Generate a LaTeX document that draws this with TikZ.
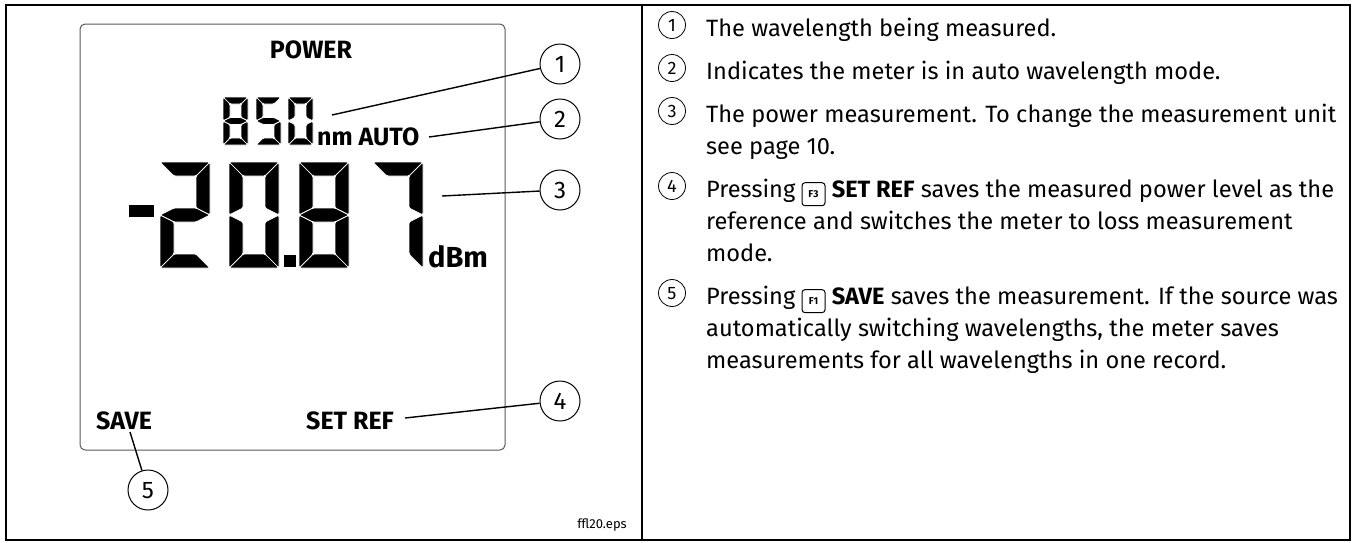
\documentclass[tikz,border=0pt]{standalone}
\usepackage{fontspec}
\setmainfont{Fira Sans}[Numbers=Lining]
\usetikzlibrary{positioning}

% LCD segments, local frame: (0,0) top left, y downwards
\newcommand{\sega}{\fill[lcdseg] (0,0) -- (\dw,0) -- ({\dw-\dt},\dt) -- (\dt,\dt) -- cycle;}
\newcommand{\segb}{\fill[lcdseg] (\dw,0) -- (\dw,{\dh/2}) -- ({\dw-\dt},{\dh/2-\dt/2}) -- ({\dw-\dt},\dt) -- cycle;}
\newcommand{\segc}{\fill[lcdseg] (\dw,{\dh/2}) -- (\dw,\dh) -- ({\dw-\dt},{\dh-\dt}) -- ({\dw-\dt},{\dh/2+\dt/2}) -- cycle;}
\newcommand{\segd}{\fill[lcdseg] (0,\dh) -- (\dw,\dh) -- ({\dw-\dt},{\dh-\dt}) -- (\dt,{\dh-\dt}) -- cycle;}
\newcommand{\sege}{\fill[lcdseg] (0,{\dh/2}) -- (\dt,{\dh/2+\dt/2}) -- (\dt,{\dh-\dt}) -- (0,\dh) -- cycle;}
\newcommand{\segf}{\fill[lcdseg] (0,0) -- (\dt,\dt) -- (\dt,{\dh/2-\dt/2}) -- (0,{\dh/2}) -- cycle;}
\newcommand{\segg}{\fill[lcdseg] (0,{\dh/2}) -- (\dt,{\dh/2-\dt/2}) -- ({\dw-\dt},{\dh/2-\dt/2}) -- (\dw,{\dh/2})
  -- ({\dw-\dt},{\dh/2+\dt/2}) -- (\dt,{\dh/2+\dt/2}) -- cycle;}
% one digit: x, y, width, height, thickness, segment list macro
\newcommand{\lcddigit}[6]{%
  \begin{scope}[shift={(#1,#2)}]
    \def\dw{#3}\def\dh{#4}\def\dt{#5}
    \foreach \s in #6 {\csname seg\s\endcsname}
  \end{scope}}
% function key glyph
\newcommand{\fkey}[1]{\tikz[baseline=(fk.base)]\node[fkeybox] (fk) {#1};}

\begin{document}
\begin{tikzpicture}[
    x=1pt, y=-1pt,
    every node/.style={inner sep=0pt},
    lcdseg/.style={fill=black, draw=white, line width=0.7pt, rounded corners=1.5pt},
    lcdlabel/.style={font=\fontsize{25}{25}\selectfont\bfseries},
    callout/.style={circle, draw, line width=1pt, minimum size=40pt,
                    text height=17pt, text depth=0pt,
                    font=\fontsize{24}{24}\selectfont},
    bullet/.style={circle, draw, line width=0.8pt, minimum size=27pt,
                   text height=13pt, text depth=0pt,
                   font=\fontsize{18}{18}\selectfont},
    lead/.style={line width=1.4pt},
    desc/.style={anchor=north west, align=left,
                 font=\fontsize{23.6}{32}\selectfont},
    fkeybox/.style={draw, line width=1pt, rounded corners=3pt,
                    minimum width=23pt, minimum height=23pt, inner sep=1pt,
                    font=\fontsize{10}{10}\selectfont\bfseries},
  ]
  \useasboundingbox (0,0) rectangle (1352,542);
  % frame and divider
  \draw[line width=2pt] (6,5) rectangle (1350,540);
  \draw[line width=2pt] (641.5,5) -- (641.5,540);
  % LCD screen
  \draw[black!65, line width=1pt, rounded corners=5pt] (80,24) rectangle (505,450);
  \node[lcdlabel] (power) at (311,50) {POWER};
  % wavelength digits
  \foreach \px/\segs in {223/{a,b,c,d,e,f,g}, 256/{a,f,g,c,d}, 288/{a,b,c,d,e,f}}
    \lcddigit{\px}{97}{25}{48}{7}{\segs};
  \node[lcdlabel, anchor=base west] (auto) at (317,145) {nm AUTO};
  % power reading
  \fill (129,205) rectangle (154,217);
  \foreach \px/\segs in {160/{a,b,g,e,d}, 229/{a,b,c,d,e,f}, 299/{a,b,c,d,e,f,g}, 373/{a,b,c}}
    \lcddigit{\px}{162}{50}{106}{14}{\segs};
  \fill (284,255) rectangle (296,267);
  \node[lcdlabel, anchor=base west, font=\fontsize{29}{29}\selectfont\bfseries] (dbm) at (428,267) {dBm};
  % soft keys
  \node[lcdlabel, anchor=base west] (save) at (96,429) {SAVE};
  \node[lcdlabel, anchor=base west] (setref) at (306,429) {SET REF};
  \node[anchor=base east, font=\fontsize{13}{13}\selectfont] (fname) at (627,528) {ffl20.eps};
  % callouts
  \node[callout] (c1) at (560,64) {1};
  \node[callout] (c2) at (560,119) {2};
  \node[callout] (c3) at (560,190) {3};
  \node[callout] (c4) at (560,401) {4};
  \node[callout] (c5) at (148,490) {5};
  \coordinate (p1) at (332,115);
  \coordinate (p2) at (429,137);
  \coordinate (p3) at (442,196);
  \coordinate (p4) at (405,418);
  \coordinate (p5) at (130,432);
  \foreach \i in {1,...,5}
    \draw[lead] (p\i) -- (c\i);
  % legend
  \foreach \i/\py in {1/25, 2/68, 3/111, 4/186, 5/293}
    \node[bullet] (n\i) at (672,\py) {\i};
  \node[desc] (t1) at (706,18) {The wavelength being measured.};
  \node[desc] (t2) at (706,61) {Indicates the meter is in auto wavelength mode.};
  \node[desc] (t3) at (706,104) {The power measurement. To change the measurement unit\\see page 10.};
  \node[desc] (t4) at (706,179) {Pressing \fkey{F3} {\bfseries SET REF} saves the measured power level as the\\
    reference and switches the meter to loss measurement\\mode.};
  \node[desc] (t5) at (706,286) {Pressing \fkey{F1} {\bfseries SAVE} saves the measurement. If the source was\\
    automatically switching wavelengths, the meter saves\\measurements for all wavelengths in one record.};
\end{tikzpicture}
\end{document}
